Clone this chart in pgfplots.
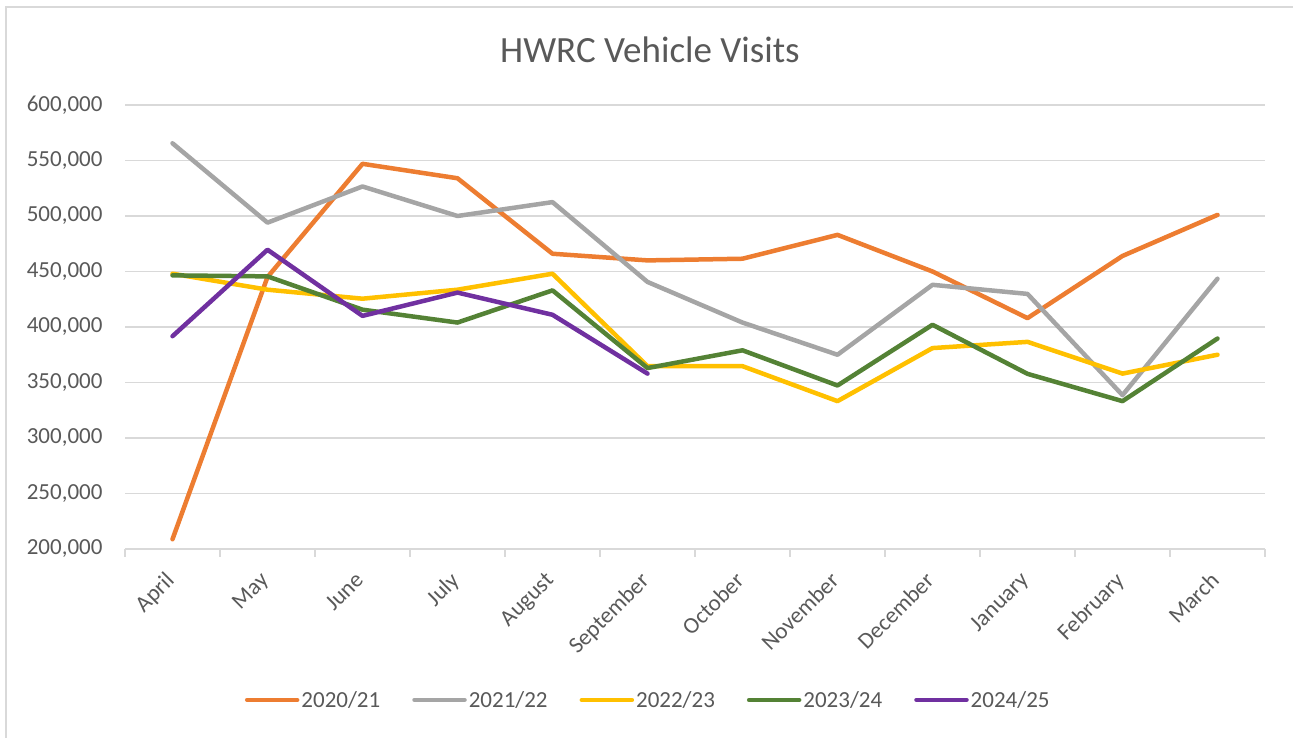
\documentclass[border=0pt]{standalone}
\usepackage{pgfplots}
\pgfplotsset{compat=1.18}
\usepackage{fontspec}
\setmainfont{Carlito}

\definecolor{txtgray}{HTML}{595959}
\definecolor{gridgray}{HTML}{D9D9D9}
\definecolor{c2020}{HTML}{ED7D31}
\definecolor{c2021}{HTML}{A5A5A5}
\definecolor{c2022}{HTML}{FFC000}
\definecolor{c2023}{HTML}{548235}
\definecolor{c2024}{HTML}{7030A0}

\begin{document}
\begin{tikzpicture}[x=1pt,y=1pt]
\useasboundingbox (0,0) rectangle (1293,738);
% chart area border (left and top visible)
\draw[gridgray, line width=1.5pt] (6,0) -- (6,731) -- (1293,731);
\node[text=txtgray, font=\fontsize{37}{37}\selectfont] at (650,688) {HWRC Vehicle Visits};

\begin{axis}[
  at={(125pt,189pt)}, anchor=south west,
  width=1140pt, height=444pt, scale only axis,
  xmin=-0.5, xmax=11.5,
  ymin=200000, ymax=600000,
  ytick={200000,250000,...,600000},
  scaled y ticks=false,
  /pgf/number format/fixed,
  /pgf/number format/1000 sep={,},
  /pgf/number format/assume math mode=true,
  xtick={0,...,11},
  xticklabels={April,May,June,July,August,September,October,November,December,January,February,March},
  extra x ticks={-0.5,0.5,...,11.5},
  extra x tick labels={},
  extra x tick style={major tick length=8pt, tick align=outside,
    major tick style={gridgray, line width=1.5pt}, ymajorgrids=false, xmajorgrids=false},
  major tick length=0pt,
  axis lines*=left,
  y axis line style={draw=none},
  x axis line style={gridgray, line width=1.5pt},
  ymajorgrids,
  grid style={gridgray, line width=1.5pt},
  tick label style={text=txtgray, font=\fontsize{23}{23}\selectfont},
  xticklabel style={rotate=45, anchor=north east, xshift=-18pt, yshift=-6pt},
  yticklabel style={xshift=-19pt},
  every axis plot/.append style={line width=4.5pt, line cap=round, line join=round},
  legend columns=5,
  legend style={at={(0.459,-0.34)}, anchor=center, draw=none,
    font=\fontsize{23}{23}\selectfont, text=txtgray,
    /tikz/every even column/.append style={column sep=30pt}},
  legend image code/.code={\draw[#1, line width=4.5pt, line cap=round] (0pt,0pt) -- (50pt,0pt);},
]
\addplot[c2020] coordinates {
  (0,208800) (1,445000) (2,547000) (3,534000) (4,466000) (5,460000)
  (6,461500) (7,483000) (8,450000) (9,408000) (10,464000) (11,501000)
};
\addplot[c2021] coordinates {
  (0,565500) (1,494000) (2,526600) (3,500000) (4,512500) (5,440600)
  (6,404000) (7,375000) (8,438000) (9,429800) (10,338600) (11,443500)
};
\addplot[c2022] coordinates {
  (0,448000) (1,433600) (2,425500) (3,433600) (4,448000) (5,364700)
  (6,364700) (7,333200) (8,381000) (9,386600) (10,358000) (11,375000)
};
\addplot[c2023] coordinates {
  (0,446500) (1,445600) (2,415600) (3,404000) (4,433000) (5,363000)
  (6,379000) (7,347300) (8,402000) (9,357800) (10,333200) (11,389600)
};
\addplot[c2024] coordinates {
  (0,391700) (1,469600) (2,410000) (3,431000) (4,411000) (5,358000)
};
\legend{2020/21,2021/22,2022/23,2023/24,2024/25}
\end{axis}
\end{tikzpicture}
\end{document}
